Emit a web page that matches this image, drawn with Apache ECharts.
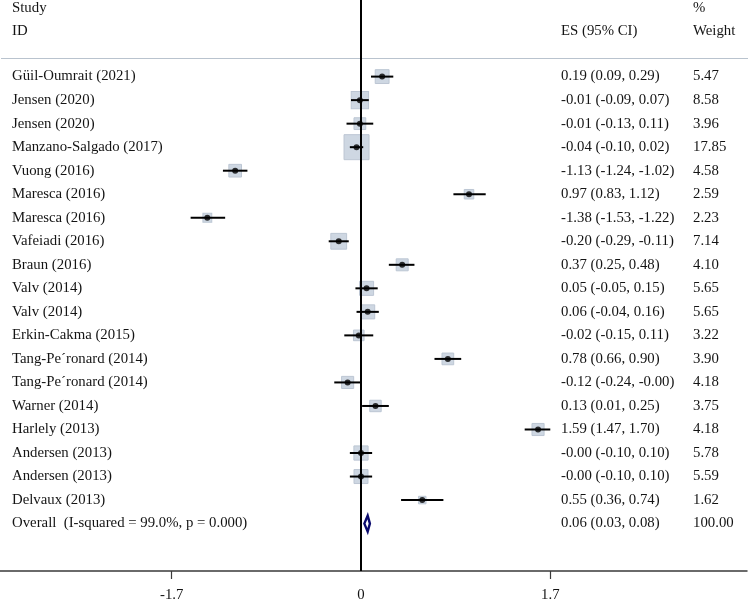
<!DOCTYPE html>
<html>
<head>
<meta charset="utf-8">
<script src="https://cdn.jsdelivr.net/npm/echarts@6/dist/echarts.min.js"></script>
<style>
html,body{margin:0;padding:0;background:#fff;}
#chart{width:749px;height:603px;}
</style>
</head>
<body>
<div id="chart"></div>
<script>
// ---- data ----
const studies = [
  "Güil-Oumrait (2021)", "Jensen (2020)", "Jensen (2020)", "Manzano-Salgado (2017)",
  "Vuong (2016)", "Maresca (2016)", "Maresca (2016)", "Vafeiadi (2016)", "Braun (2016)",
  "Valv (2014)", "Valv (2014)", "Erkin-Cakma (2015)", "Tang-Pe´ronard (2014)",
  "Tang-Pe´ronard (2014)", "Warner (2014)", "Harlely (2013)", "Andersen (2013)",
  "Andersen (2013)", "Delvaux (2013)"
];
const es     = [0.19, -0.01, -0.01, -0.04, -1.13, 0.97, -1.38, -0.20, 0.37, 0.05, 0.06, -0.02, 0.78, -0.12, 0.13, 1.59, -0.00, -0.00, 0.55];
const ciLow  = [0.09, -0.09, -0.13, -0.10, -1.24, 0.83, -1.53, -0.29, 0.25, -0.05, -0.04, -0.15, 0.66, -0.24, 0.01, 1.47, -0.10, -0.10, 0.36];
const ciHigh = [0.29, 0.07, 0.11, 0.02, -1.02, 1.12, -1.22, -0.11, 0.48, 0.15, 0.16, 0.11, 0.90, -0.00, 0.25, 1.70, 0.10, 0.10, 0.74];
const weight = [5.47, 8.58, 3.96, 17.85, 4.58, 2.59, 2.23, 7.14, 4.10, 5.65, 5.65, 3.22, 3.90, 4.18, 3.75, 4.18, 5.78, 5.59, 1.62];
const overallLabel = "Overall  (I-squared = 99.0%, p = 0.000)";
const overall = { es: 0.06, lo: 0.03, hi: 0.08, weight: 100.00 };
const tickValues = [-1.7, 0, 1.7];
const tickLabels = ["-1.7", "0", "1.7"];

// ---- helpers ----
const fmt = v => ((v < 0 || Object.is(v, -0)) ? "-" : "") + Math.abs(v).toFixed(2);
const FONT = "Liberation Serif";
const FS = 14.8;
const TXT = "#141414";
const maxW = Math.max(...weight);

const rows = studies.map((s, i) => ({
  label: s, es: es[i], lo: ciLow[i], hi: ciHigh[i], w: weight[i], row: i
}));
const overallRow = studies.length;
const tableRows = rows.map(r => [r.row, r.label, fmt(r.es) + " (" + fmt(r.lo) + ", " + fmt(r.hi) + ")", r.w.toFixed(2)]);
tableRows.push([overallRow, overallLabel, fmt(overall.es) + " (" + fmt(overall.lo) + ", " + fmt(overall.hi) + ")", overall.weight.toFixed(2)]);

const chart = echarts.init(document.getElementById('chart'), null, { renderer: 'canvas' });

const textStyleBase = { fill: TXT, fontFamily: FONT, fontSize: FS, verticalAlign: 'middle', align: 'left' };

chart.setOption({
  animation: false,
  backgroundColor: '#ffffff',
  grid: { left: 0, right: 2, top: 0, bottom: 29, containLabel: false },
  xAxis: {
    type: 'value', min: -3.242, max: 3.4666,
    splitLine: { show: false },
    axisLine: { show: true, onZero: false, lineStyle: { color: '#3a3a3a', width: 1.5 } },
    axisTick: { show: true, customValues: [tickValues[0], tickValues[2]], length: 8, lineStyle: { color: '#3a3a3a', width: 1.2 } },
    axisLabel: {
      show: true, customValues: tickValues, margin: 17,
      fontFamily: FONT, fontSize: FS, color: TXT,
      formatter: v => tickLabels[tickValues.findIndex(t => Math.abs(t - v) < 1e-9)]
    }
  },
  yAxis: {
    type: 'value', inverse: true, min: -3.256, max: 21.015, show: false,
    splitLine: { show: false }
  },
  graphic: [
    { type: 'text', x: 12, y: 8, style: Object.assign({ text: 'Study' }, textStyleBase) },
    { type: 'text', x: 12, y: 31, style: Object.assign({ text: 'ID' }, textStyleBase) },
    { type: 'text', x: 561, y: 31, style: Object.assign({ text: 'ES (95% CI)' }, textStyleBase) },
    { type: 'text', x: 693, y: 8, style: Object.assign({ text: '%' }, textStyleBase) },
    { type: 'text', x: 693, y: 31, style: Object.assign({ text: 'Weight' }, textStyleBase) },
    { type: 'line', shape: { x1: 1, y1: 58.5, x2: 748, y2: 58.5 }, style: { stroke: '#b9c3ce', lineWidth: 1.2 } }
  ],
  series: [
    { // zero reference line
      type: 'line', data: [], z: 1, silent: true,
      markLine: {
        symbol: 'none', silent: true, label: { show: false },
        lineStyle: { color: '#000', width: 2, type: 'solid' },
        data: [{ xAxis: 0 }]
      }
    },
    { // weight boxes
      type: 'scatter', z: 2, symbol: 'rect', silent: true,
      data: rows.map(r => [r.es, r.row]),
      symbolSize: (v, p) => 25 * Math.sqrt(weight[p.dataIndex] / maxW),
      itemStyle: { color: '#ced7e2', borderColor: '#bcc6d3', borderWidth: 1, opacity: 1 }
    },
    { // CI lines
      type: 'custom', z: 3, silent: true,
      data: rows.map(r => [r.lo, r.row, r.hi]),
      renderItem: (params, api) => {
        const y = api.value(1);
        const p1 = api.coord([api.value(0), y]);
        const p2 = api.coord([api.value(2), y]);
        return { type: 'line', shape: { x1: p1[0], y1: p1[1], x2: p2[0], y2: p2[1] }, style: { stroke: '#000', lineWidth: 2 } };
      }
    },
    { // point estimates
      type: 'scatter', z: 4, symbol: 'circle', symbolSize: 6, silent: true,
      data: rows.map(r => [r.es, r.row]),
      itemStyle: { color: '#000' }
    },
    { // overall diamond
      type: 'custom', z: 4, silent: true,
      data: [[overall.lo, overallRow, overall.hi, overall.es]],
      renderItem: (params, api) => {
        const y = api.value(1);
        const l = api.coord([api.value(0), y]);
        const r = api.coord([api.value(2), y]);
        const c = api.coord([api.value(3), y]);
        const h = 8;
        return {
          type: 'polygon',
          shape: { points: [[l[0], l[1]], [c[0], c[1] - h], [r[0], r[1]], [c[0], c[1] + h]] },
          style: { fill: 'none', stroke: '#0b0b6e', lineWidth: 2.4 }
        };
      }
    },
    { // table text
      type: 'custom', z: 5, silent: true,
      data: tableRows,
      renderItem: (params, api) => {
        const d = tableRows[params.dataIndex];
        const y = api.coord([0, d[0]])[1];
        return {
          type: 'group',
          children: [
            { type: 'text', x: 12, y: y, style: Object.assign({ text: d[1] }, textStyleBase) },
            { type: 'text', x: 561, y: y, style: Object.assign({ text: d[2] }, textStyleBase) },
            { type: 'text', x: 693, y: y, style: Object.assign({ text: d[3] }, textStyleBase) }
          ]
        };
      }
    }
  ]
});
</script>
</body>
</html>
